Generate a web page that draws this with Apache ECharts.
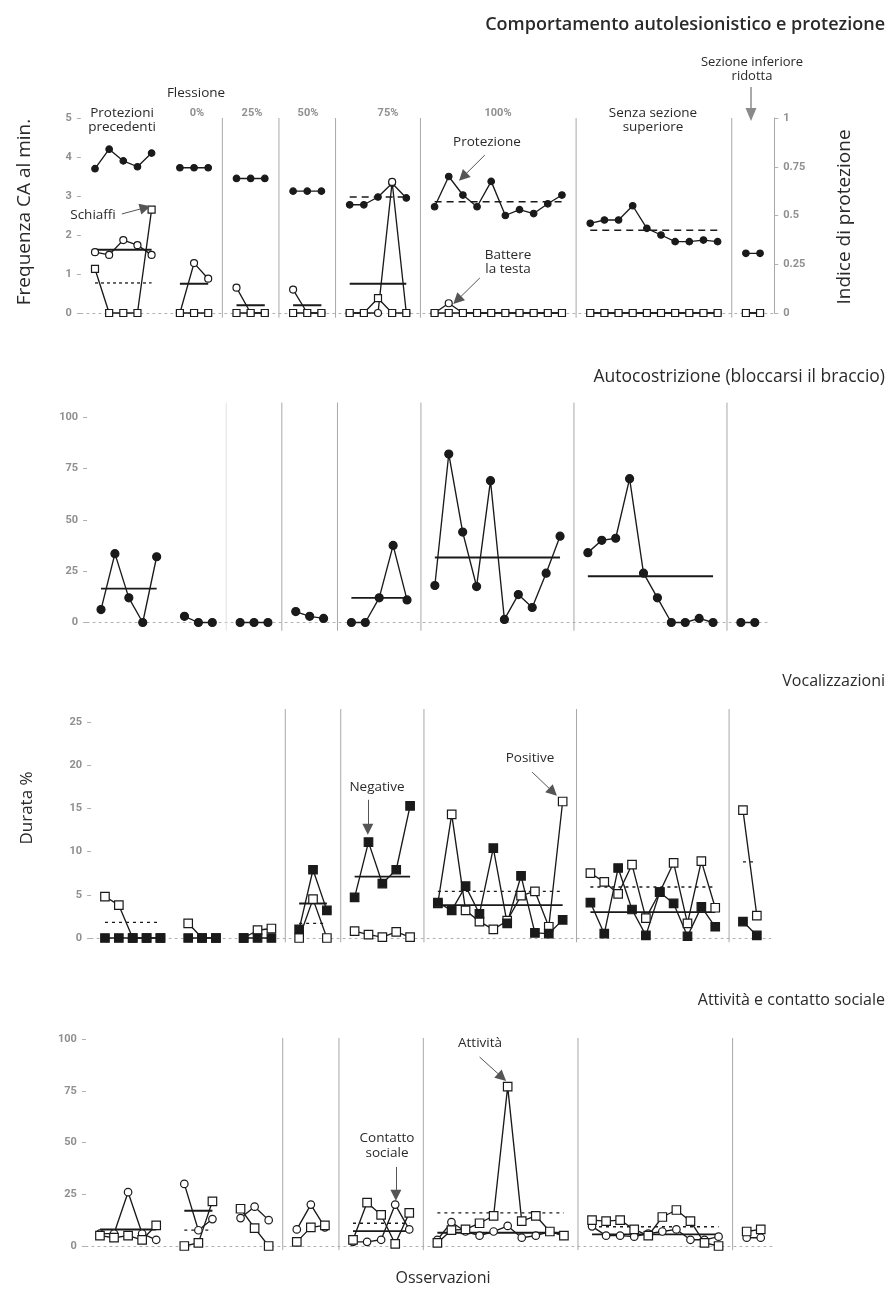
<!DOCTYPE html>
<html><head><meta charset="utf-8">
<script src="https://cdn.jsdelivr.net/npm/echarts@6/dist/echarts.min.js"></script>
<style>html,body{margin:0;padding:0;background:#fff}#c{width:890px;height:1297px}</style>
</head><body><div id="c"></div>
<script>
// ---- DATA ----
const phaseCounts = [5, 3, 3, 3, 5, 10, 10, 2];

// Panel 1: protection index (right axis 0-1), slaps and head banging (responses per min)
const protIndex = [0.74,0.84,0.78,0.75,0.82, 0.745,0.745,0.745, 0.69,0.69,0.69, 0.625,0.625,0.625,
  0.555,0.555,0.595,0.665,0.59, 0.545,0.70,0.605,0.545,0.675,0.50,0.53,0.51,0.56,0.605,
  0.46,0.477,0.477,0.55,0.434,0.40,0.366,0.366,0.374,0.366, 0.306,0.306];
const protMean = [null,null,null,null,0.595,0.57,0.425,null];
const slapRate = [1.13,0,0,0,2.65, 0,0,0, 0,0,0, 0,0,0, 0,0,0.38,0,0,
  0,0,0,0,0,0,0,0,0,0, 0,0,0,0,0,0,0,0,0,0, 0,0];
const slapMean = [0.77,null,null,null,null,null,null,null];
const headRate = [1.56,1.49,1.87,1.74,1.49, 0,1.28,0.88, 0.65,0,0, 0.6,0,0, 0,0,0,3.36,0,
  0,0.25,0,0,0,0,0,0,0,0, 0,0,0,0,0,0,0,0,0,0, 0,0];
const headMean = [1.62,0.75,0.2,0.2,0.75,null,null,null];

// Panel 2: arm restraint (%)
const armRestraint = [6.3,33.5,12,0,32, 3,0,0, 0,0,0, 5.3,3,2, 0,0,12,37.5,11,
  18,82,44,17.5,69,1.5,13.6,7.3,24,42, 34,40,41,70,24,12,0,0,2,0, 0,0];
const armMean = [16.5,null,null,null,12,31.6,22.5,null];

// Panel 3: vocalizations (% duration)
const vocPositive = [4.8,3.8,0,0,0, 1.7,0,0, 0,0.9,1.1, 0,4.5,0, 0.8,0.4,0.1,0.7,0.1,
  4,14.3,3.2,1.9,1,2,4.9,5.4,1.3,15.8, 7.5,6.5,5.1,8.5,2.3,5.3,8.7,1.7,8.9,3.5, 14.8,2.6];
const vocPositiveMean = [1.8,null,null,1.7,null,5.4,5.9,8.8];
const vocNegative = [0,0,0,0,0, 0,0,0, 0,0,0, 1.0,7.9,3.2, 4.7,11.1,6.3,7.9,15.3,
  4.1,3.2,6.0,2.8,10.4,1.7,7.2,0.6,0.5,2.1, 4.1,0.5,8.1,3.3,0.3,5.3,4.0,0.2,3.6,1.3, 1.9,0.3];
const vocNegativeMean = [null,null,null,4.0,7.1,3.8,3.0,null];

// Panel 4: activity and social contact (%)
const activity = [5,4,5,3,10, 0,1.5,21.6, 18,8.6,0, 2,9,10, 3,21,15,1,16,
  1.5,7.7,8,11,14.6,77,12,14.6,7,5, 12.5,12,12.5,8,5,14,17.4,12,1.5,0, 7,8];
const activityMean = [null,7.7,null,null,11,16,9.3,null];
const social = [6,6,26,6,3, 30,7.6,13, 13.5,19,12.5, 8,20,9, 2,2,3,20,8,
  3,11.5,7,5,7,9.7,4,5,7,5, 9.5,5,5,4.5,6,7,8,3,3,4.5, 4,4];
const socialMean = [8,17,null,null,7.2,6.4,5.6,null];

// ---- helpers ----
const phaseStart = [];
(function(){ let s = 0; phaseCounts.forEach(c => { phaseStart.push(s); s += c + 1; }); })();
const gaps = phaseStart.slice(1).map(s => s - 1);

function pts(values) {
  const out = []; let k = 0;
  phaseCounts.forEach((c, p) => {
    for (let i = 0; i < c; i++) out.push([phaseStart[p] + i, values[k++]]);
    out.push([phaseStart[p] + c, '-']);
  });
  return out;
}
function meanPts(means) {
  const out = [];
  means.forEach((m, p) => {
    if (m == null) return;
    out.push([phaseStart[p], m], [phaseStart[p] + phaseCounts[p] - 1, m], [phaseStart[p] + phaseCounts[p], '-']);
  });
  return out;
}
function sepPts(gapIdx, lo, hi) {
  const out = [];
  gapIdx.forEach(i => { out.push([gaps[i], lo], [gaps[i], hi], [gaps[i] + 0.01, '-']); });
  return out;
}

const INK = '#1a1a1a';
const base = { type: 'line', clip: false, silent: true, animation: false, connectNulls: false, z: 3 };
function dataSeries(g, yi, values, symbol, size, filled, extra) {
  return Object.assign({}, base, {
    xAxisIndex: g, yAxisIndex: yi, data: pts(values),
    symbol: symbol, symbolSize: size, showSymbol: true,
    lineStyle: { color: INK, width: 1.35 },
    itemStyle: { color: filled ? INK : '#fff', borderColor: INK, borderWidth: 1.2 }
  }, extra || {});
}
function meanSeries(g, yi, means, dash, width) {
  return Object.assign({}, base, {
    xAxisIndex: g, yAxisIndex: yi, data: meanPts(means), symbol: 'none', z: 2,
    lineStyle: { color: INK, width: width || 1.9, type: dash || 'solid' }
  });
}
function sepSeries(g, yi, gapIdx, lo, hi, color) {
  return Object.assign({}, base, {
    xAxisIndex: g, yAxisIndex: yi, data: sepPts(gapIdx, lo, hi), symbol: 'none', z: 1,
    lineStyle: { color: color || '#a8a8a8', width: 1 }
  });
}
function arrows(list) {
  return {
    silent: true, animation: false, symbol: ['none', 'triangle'], symbolSize: 11,
    label: { show: false }, lineStyle: { color: '#555', width: 1, type: 'solid' },
    itemStyle: { color: '#8a8a8a' },
    data: list.map(a => [
      { coord: a[0], symbol: 'none' },
      { coord: a[1], symbol: 'triangle', symbolSize: 11, itemStyle: { color: '#8a8a8a' } }
    ])
  };
}

const grids = [
  { left: 80.85, top: 118, width: 693.35, height: 195 },
  { left: 87.1, top: 417, width: 681.6, height: 205.5 },
  { left: 91.1, top: 722, width: 679.6, height: 216 },
  { left: 85.9, top: 1039, width: 688.9, height: 207 }
];
const xAxes = grids.map((g, i) => ({
  type: 'value', gridIndex: i, min: -1, max: 48, show: true,
  axisLine: { show: true, onZero: false, lineStyle: { color: '#b0b0b0', width: 1, type: [2, 4] } },
  axisTick: { show: false }, axisLabel: { show: false }, splitLine: { show: false }
}));
const tickLabel = { color: '#8f8f8f', fontSize: 11, fontWeight: 'bold', fontFamily: 'Roboto', margin: 9 };
function yAx(g, min, max, interval, pos, line) {
  return {
    type: 'value', gridIndex: g, min: min, max: max, interval: interval, position: pos || 'left',
    axisLine: { show: !!line, onZero: false, lineStyle: { color: '#a8a8a8', width: 1 } },
    axisTick: { show: true, inside: false, length: 4, lineStyle: { color: '#b0b0b0' } },
    axisLabel: Object.assign({}, tickLabel),
    splitLine: { show: false }
  };
}
const yAxes = [
  yAx(0, 0, 5, 1, 'left'),
  yAx(0, 0, 1, 0.25, 'right', true),
  yAx(1, 0, 100, 25),
  yAx(2, 0, 25, 5),
  yAx(3, 0, 100, 25)
];

const series = [
  // separators
  sepSeries(0, 0, [1,2,3,4,5,6], -0.12, 5),
  sepSeries(1, 2, [1], -4, 107, '#e2e2e2'),
  sepSeries(1, 2, [2,3,4,5,6], -4, 107),
  sepSeries(2, 3, [2,3,4,5,6], -0.5, 26.5),
  sepSeries(3, 4, [2,3,4,5,6], -2, 100.5),
  // panel 1
  meanSeries(0, 1, protMean, [7, 5], 1.5),
  meanSeries(0, 0, slapMean, [3, 3], 1.3),
  meanSeries(0, 0, headMean, 'solid', 1.9),
  dataSeries(0, 1, protIndex, 'circle', 6.5, true),
  dataSeries(0, 0, headRate, 'circle', 7, false),
  dataSeries(0, 0, slapRate, 'rect', 7, false, {
    markLine: arrows([
      [[1.9, 2.54], [3.55, 2.7]],
      [[27.55, 4.05], [26.0, 3.49]],
      [[27.2, 0.9], [25.6, 0.33]]
    ])
  }),
  // panel 2
  meanSeries(1, 2, armMean, 'solid', 1.9),
  dataSeries(1, 2, armRestraint, 'circle', 8, true),
  // panel 3
  meanSeries(2, 3, vocPositiveMean, [3, 4], 1.3),
  meanSeries(2, 3, vocNegativeMean, 'solid', 1.9),
  dataSeries(2, 3, vocPositive, 'rect', 8.5, false),
  dataSeries(2, 3, vocNegative, 'rect', 8.5, true, {
    markLine: arrows([
      [[18.95, 16.0], [18.95, 12.6]],
      [[30.8, 19.2], [32.3, 16.9]]
    ])
  }),
  // panel 4
  meanSeries(3, 4, activityMean, [3, 4], 1.3),
  meanSeries(3, 4, socialMean, 'solid', 1.9),
  dataSeries(3, 4, social, 'circle', 7.5, false),
  dataSeries(3, 4, activity, 'rect', 8.5, false, {
    markLine: arrows([
      [[27.0, 91.3], [28.6, 81.5]],
      [[21.05, 38.2], [21.05, 24.5]]
    ])
  })
];

const FONT = '"Open Sans", "Noto Sans", sans-serif';
function txt(t, x, y, size, opts) {
  opts = opts || {};
  return {
    type: 'text', x: x, y: y, rotation: opts.rot || 0, silent: true, z: 10,
    style: {
      text: t, fill: opts.color || '#2a2a2a', align: opts.align || 'center', verticalAlign: 'middle',
      font: (opts.weight || 'normal') + ' ' + size + 'px ' + (opts.family || FONT),
      lineHeight: opts.lh || Math.round(size * 1.1)
    }
  };
}
const gray = { color: '#8f8f8f', weight: 'bold', family: 'Roboto' };
const graphic = [
  txt('Comportamento autolesionistico e protezione', 885, 25, 18, { align: 'right', weight: '600' }),
  txt('Autocostrizione (bloccarsi il braccio)', 885, 377, 17.5, { align: 'right' }),
  txt('Vocalizzazioni', 885, 681, 16, { align: 'right' }),
  txt('Attività e contatto sociale', 885, 1000, 16, { align: 'right' }),
  txt('Frequenza CA al min.', 25, 212, 19, { rot: Math.PI / 2 }),
  txt('Indice di protezione', 845, 217, 19, { rot: Math.PI / 2 }),
  txt('Durata %', 27, 808, 17, { rot: Math.PI / 2 }),
  txt('Osservazioni', 443, 1278, 16),
  txt('Protezioni\nprecedenti', 122, 120, 13.5, { lh: 14 }),
  txt('Flessione', 196, 93, 13.5),
  txt('0%', 197, 113, 11, gray),
  txt('25%', 252, 113, 11, gray),
  txt('50%', 308, 113, 11, gray),
  txt('75%', 388, 113, 11, gray),
  txt('100%', 498, 113, 11, gray),
  txt('Senza sezione\nsuperiore', 653, 120, 13.5, { lh: 14 }),
  txt('Sezione inferiore\nridotta', 752, 69, 13, { lh: 14 }),
  txt('Protezione', 487, 142, 13.5),
  txt('Battere\nla testa', 508, 262, 13.5, { lh: 14 }),
  txt('Schiaffi', 93, 215, 13.5),
  txt('Negative', 377, 787, 13.5),
  txt('Positive', 530, 758, 13.5),
  txt('Attività', 480, 1043, 13.5),
  txt('Contatto\nsociale', 387, 1146, 13.5, { lh: 15 }),
  // annotation arrow above the top panel (outside the plot area)
  { type: 'line', silent: true, z: 10, shape: { x1: 751, y1: 87, x2: 751, y2: 110 }, style: { stroke: '#555', lineWidth: 1 } },
  { type: 'polygon', silent: true, z: 10, shape: { points: [[745.5, 108], [756.5, 108], [751, 121]] }, style: { fill: '#8a8a8a' } }
];

const chart = echarts.init(document.getElementById('c'), null, { renderer: 'canvas' });
chart.setOption({
  backgroundColor: '#ffffff',
  animation: false,
  grid: grids, xAxis: xAxes, yAxis: yAxes, series: series, graphic: graphic
});
</script></body></html>
